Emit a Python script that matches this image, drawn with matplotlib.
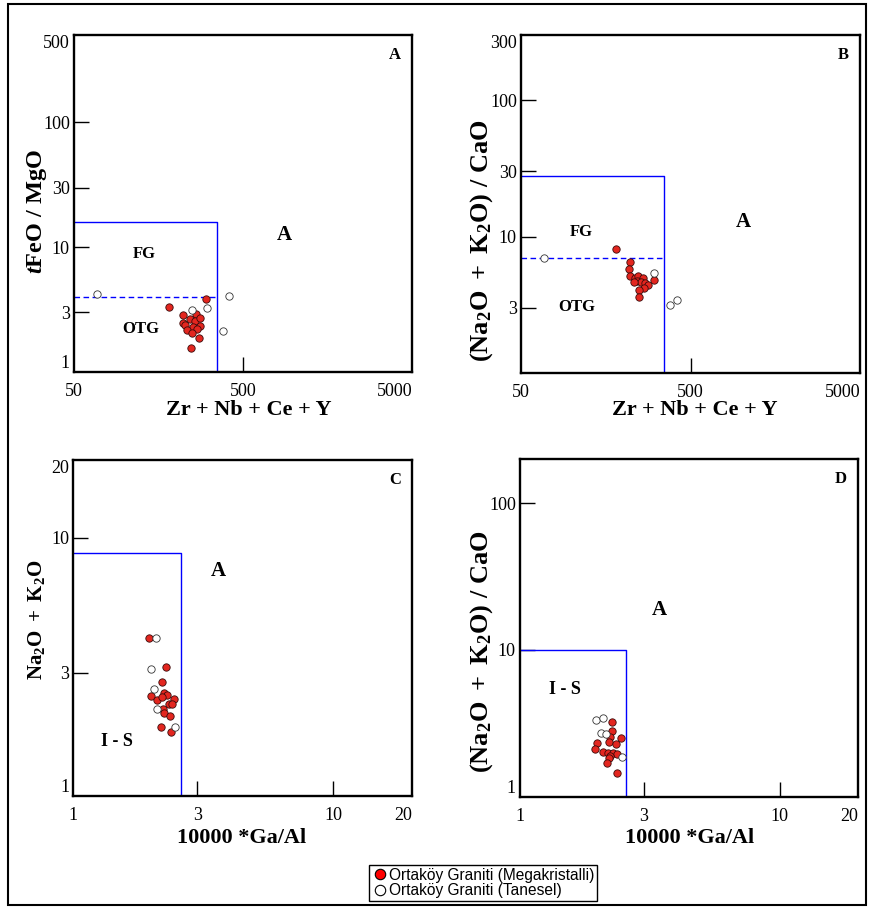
import matplotlib
matplotlib.use("Agg")
import matplotlib.pyplot as plt
from matplotlib.patches import Rectangle
from matplotlib.lines import Line2D

plt.rcParams['font.family'] = ['Liberation Serif', 'DejaVu Serif']
plt.rcParams['mathtext.fontset'] = 'custom'
plt.rcParams['mathtext.rm'] = 'Liberation Serif'
plt.rcParams['mathtext.bf'] = 'Liberation Serif:bold'
plt.rcParams['mathtext.it'] = 'Liberation Serif:italic:bold'

# ---- data ----
# panel A: Zr+Nb+Ce+Y vs tFeO/MgO
a_red_x = [302, 182, 220, 264, 243, 260, 278, 220, 227, 252, 278, 234, 266, 250, 276, 245]
a_red_y = [3.84, 3.31, 2.84, 2.93, 2.66, 2.58, 2.72, 2.45, 2.38, 2.31, 2.34, 2.17, 2.20, 2.06, 1.86, 1.55]
a_open_x = [68, 413, 306, 249, 379]
a_open_y = [4.21, 4.08, 3.24, 3.14, 2.14]

# panel B: Zr+Nb+Ce+Y vs (Na2O+K2O)/CaO
b_red_x = [182, 220, 217, 220, 235, 246, 263, 241, 254, 270, 280, 266, 249, 248, 305, 233]
b_red_y = [8.15, 6.48, 5.76, 5.17, 4.95, 5.14, 4.95, 4.75, 4.67, 4.59, 4.42, 4.22, 4.06, 3.59, 4.78, 4.67]
b_open_x = [68, 303, 378, 416]
b_open_y = [6.93, 5.44, 3.15, 3.45]

# panel C: 10000*Ga/Al vs Na2O+K2O
c_red_x = [1.955, 2.27, 2.20, 1.99, 2.09, 2.23, 2.29, 2.19, 2.44, 2.34, 2.40, 2.21, 2.24, 2.35, 2.17, 2.37]
c_red_y = [4.11, 3.15, 2.77, 2.45, 2.36, 2.50, 2.46, 2.41, 2.38, 2.27, 2.27, 2.17, 2.09, 2.05, 1.85, 1.77]
c_open_x = [2.08, 1.985, 2.04, 2.10, 2.47]
c_open_y = [4.11, 3.11, 2.59, 2.18, 1.85]

# panel D: 10000*Ga/Al vs (Na2O+K2O)/CaO
d_red_x = [2.27, 2.27, 2.22, 2.20, 2.45, 2.34, 1.98, 1.95, 2.09, 2.19, 2.29, 2.37, 2.23, 2.20, 2.17, 2.36]
d_red_y = [3.23, 2.80, 2.54, 2.37, 2.53, 2.28, 2.31, 2.12, 2.01, 1.98, 2.00, 1.95, 1.89, 1.83, 1.69, 1.46]
d_open_x = [1.97, 2.08, 2.05, 2.14, 2.48]
d_open_y = [3.33, 3.42, 2.71, 2.66, 1.87]

zr_ticks = [50, 500, 5000]
ga_ticks = [1, 3, 10, 20]
a_yticks = [1, 3, 10, 30, 100, 500]
b_yticks = [3, 10, 30, 100, 300]
c_yticks = [1, 3, 10, 20]
d_yticks = [1, 10, 100]

RED = '#e3261f'
BLUE = '#0000ff'

fig = plt.figure(figsize=(8.71, 9.13), dpi=100)
fig.patches.append(Rectangle((8 / 871, 1 - 905 / 913), 858 / 871, 901 / 913,
                             transform=fig.transFigure, fill=False, lw=1.5, ec='black'))

axA = fig.add_axes([0.0850, 0.5926, 0.3881, 0.3691])
axB = fig.add_axes([0.5982, 0.5915, 0.3892, 0.3702])
axC = fig.add_axes([0.0842, 0.1281, 0.3885, 0.3680])
axD = fig.add_axes([0.5970, 0.1274, 0.3881, 0.3699])


def style(ax, xlim, ylim, xt, yt, corner):
    ax.set_xscale('log')
    ax.set_yscale('log')
    ax.set_xlim(*xlim)
    ax.set_ylim(*ylim)
    ax.minorticks_off()
    ax.set_xticks(xt)
    ax.set_xticklabels([str(v) for v in xt])
    ax.set_yticks(yt)
    ax.set_yticklabels([str(v) for v in yt])
    ax.tick_params(direction='in', length=11, width=1, labelsize=13)
    ax.tick_params(axis='y', pad=3)
    ax.tick_params(axis='x', pad=8)
    for t, v in zip(ax.xaxis.get_major_ticks(), xt):
        if v in xlim:
            t.tick1line.set_visible(False)
        if v == xlim[1]:
            t.label1.set_horizontalalignment('right')
    for t, v in zip(ax.yaxis.get_major_ticks(), yt):
        if v in ylim:
            t.tick1line.set_visible(False)
        if v == ylim[0]:
            t.label1.set_verticalalignment('bottom')
        if v == ylim[1]:
            t.label1.set_verticalalignment('top')
    for s in ax.spines.values():
        s.set_linewidth(1.7)
    ax.text(0.95, 0.94, corner, transform=ax.transAxes, fontsize=12,
            fontweight='bold', ha='center', va='center')


def labels(ax, xlabel, xpos, ylabel, ysize, ypos):
    ax.set_xlabel(xlabel, fontsize=16, fontweight='bold', va='center', ha='center')
    ax.xaxis.set_label_coords(*xpos)
    ax.set_ylabel(ylabel, fontsize=ysize, fontweight='bold', va='center', ha='center')
    ax.yaxis.set_label_coords(*ypos)


def points(ax, rx, ry, ox, oy):
    ax.plot(rx, ry, 'o', ms=5.3, mfc=RED, mec='#3a0a0a', mew=0.6, ls='none', zorder=3)
    ax.plot(ox, oy, 'o', ms=5.3, mfc='white', mec='#333333', mew=0.6, ls='none', zorder=3)


zr_label = 'Zr + Nb + Ce + Y'
ga_label = '10000 *Ga/Al'
ratio_label = r'$\mathbf{(Na_{2}O\ +\ K_{2}O)\ /\ CaO}$'

# panel A
style(axA, (50, 5000), (1, 500), zr_ticks, a_yticks, 'A')
labels(axA, zr_label, (0.518, -0.113), r'$\mathbf{\mathit{t}FeO\ /\ MgO}$', 17.5, (-0.11, 0.475))
axA.plot([50, 350, 350], [16, 16, 1], color=BLUE, lw=1.0)
axA.plot([50, 350], [4, 4], color=BLUE, lw=1.0, ls=(0, (4, 2.5)))
points(axA, a_red_x, a_red_y, a_open_x, a_open_y)
axA.text(874, 12.5, 'A', fontsize=15, fontweight='bold', ha='center', va='center')
axA.text(131, 8.8, 'FG', fontsize=12, fontweight='bold', ha='center', va='center')
axA.text(124, 2.21, 'OTG', fontsize=12, fontweight='bold', ha='center', va='center')

# panel B
style(axB, (50, 5000), (1, 300), zr_ticks, b_yticks, 'B')
labels(axB, zr_label, (0.513, -0.109), ratio_label, 19, (-0.115, 0.39))
axB.plot([50, 350, 350], [28, 28, 1], color=BLUE, lw=1.0)
axB.plot([50, 350], [7, 7], color=BLUE, lw=1.0, ls=(0, (4, 2.5)))
points(axB, b_red_x, b_red_y, b_open_x, b_open_y)
axB.text(1020, 12.8, 'A', fontsize=15, fontweight='bold', ha='center', va='center')
axB.text(113, 10.8, 'FG', fontsize=12, fontweight='bold', ha='center', va='center')
axB.text(107, 3.05, 'OTG', fontsize=12, fontweight='bold', ha='center', va='center')

# panel C
style(axC, (1, 20), (1, 20), ga_ticks, c_yticks, 'C')
labels(axC, ga_label, (0.498, -0.125), r'$\mathbf{Na_{2}O\ +\ K_{2}O}$', 15, (-0.11, 0.524))
axC.plot([1, 2.6, 2.6], [8.7, 8.7, 1], color=BLUE, lw=1.0)
points(axC, c_red_x, c_red_y, c_open_x, c_open_y)
axC.text(3.6, 7.45, 'A', fontsize=15, fontweight='bold', ha='center', va='center')
axC.text(1.47, 1.62, 'I - S', fontsize=13, fontweight='bold', ha='center', va='center')

# panel D
style(axD, (1, 20), (1, 200), ga_ticks, d_yticks, 'D')
labels(axD, ga_label, (0.503, -0.122), ratio_label, 19, (-0.113, 0.43))
axD.plot([1, 2.55, 2.55], [10, 10, 1], color=BLUE, lw=1.0)
points(axD, d_red_x, d_red_y, d_open_x, d_open_y)
axD.text(3.43, 18.7, 'A', fontsize=15, fontweight='bold', ha='center', va='center')
axD.text(1.49, 5.34, 'I - S', fontsize=13, fontweight='bold', ha='center', va='center')

handles = [
    Line2D([], [], marker='o', ls='none', ms=7.5, mfc='#ff0000', mec='black', mew=0.8),
    Line2D([], [], marker='o', ls='none', ms=7.5, mfc='white', mec='black', mew=0.8),
]
leg = fig.legend(handles, ['Ortaköy Graniti (Megakristalli)', 'Ortaköy Graniti (Tanesel)'],
                 loc='center', bbox_to_anchor=(483 / 871, 1 - 883 / 913),
                 prop={'family': 'Liberation Sans', 'size': 11.2},
                 frameon=True, fancybox=False, edgecolor='black', framealpha=1,
                 handletextpad=0.1, handlelength=1.0, borderpad=0.15,
                 labelspacing=0.05, borderaxespad=0)
leg.get_frame().set_linewidth(1.0)

plt.savefig("out.png", dpi=100)
print("saved out.png")
